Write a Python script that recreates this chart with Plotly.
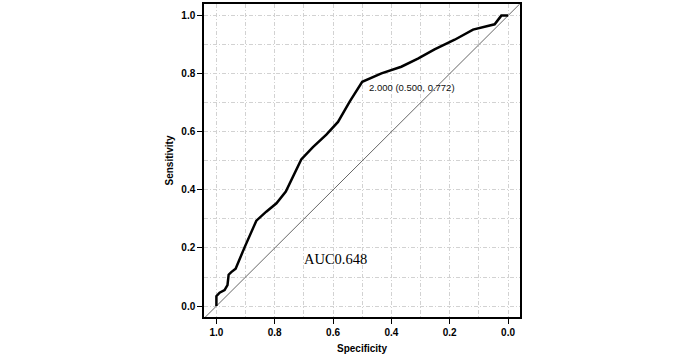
import plotly.graph_objects as go

# ROC curve points
specificity = [1.0, 1.0, 0.989, 0.972, 0.962, 0.958, 0.949, 0.934, 0.903, 0.863,
               0.829, 0.794, 0.762, 0.737, 0.709, 0.669, 0.623, 0.583, 0.543, 0.500,
               0.434, 0.366, 0.309, 0.252, 0.183, 0.120, 0.086, 0.046, 0.023, 0.0]
sensitivity = [0.0, 0.034, 0.046, 0.055, 0.072, 0.108, 0.117, 0.129, 0.203, 0.294,
               0.325, 0.354, 0.394, 0.448, 0.505, 0.547, 0.590, 0.634, 0.704, 0.772,
               0.801, 0.824, 0.852, 0.884, 0.917, 0.952, 0.961, 0.970, 1.0, 1.0]

diag_x = [1.04, -0.04]
diag_y = [-0.04, 1.04]

best_label = "2.000 (0.500, 0.772)"
auc_label = "AUC0.648"

tick_vals = [0.0, 0.2, 0.4, 0.6, 0.8, 1.0]
tick_text = ["0.0", "0.2", "0.4", "0.6", "0.8", "1.0"]

sans = "Liberation Sans Narrow, Arial Narrow, Liberation Sans, Arial, sans-serif"
grid_dash = "4px,2px,1px,2px"

fig = go.Figure()
fig.add_trace(go.Scatter(x=diag_x, y=diag_y, mode="lines",
                         line=dict(color="#666666", width=1), hoverinfo="skip",
                         showlegend=False))
fig.add_trace(go.Scatter(x=specificity, y=sensitivity, mode="lines",
                         line=dict(color="black", width=2.5), showlegend=False))

fig.add_annotation(x=0.482, y=0.752, text=best_label, showarrow=False,
                   xanchor="left", yanchor="middle",
                   font=dict(family=sans, size=9.5, color="#111111"))
fig.add_annotation(x=0.593, y=0.162, text=auc_label, showarrow=False,
                   xanchor="center", yanchor="middle",
                   font=dict(family="Liberation Serif, Times New Roman, serif", size=14.5, color="black"))

axis_common = dict(
    showline=True, linecolor="black", linewidth=1.5, mirror=True,
    ticks="outside", ticklen=5, tickcolor="black", tickwidth=1,
    tickvals=tick_vals, ticktext=tick_text,
    tickfont=dict(family=sans, size=10, color="black", weight="bold"),
    showgrid=True, gridcolor="#d2d2d2", gridwidth=1, griddash=grid_dash,
    minor=dict(dtick=0.1, showgrid=True, gridcolor="#d2d2d2", gridwidth=1, griddash=grid_dash, ticks=""),
    zeroline=False,
)

fig.update_xaxes(range=[1.0425, -0.041], title=dict(text="<b>Specificity</b>", standoff=8,
                 font=dict(family=sans, size=10, color="black")), **axis_common)
fig.update_yaxes(range=[-0.0376, 1.04], title=dict(text="<b>Sensitivity</b>", standoff=6,
                 font=dict(family=sans, size=10, color="black")), **axis_common)

fig.update_layout(width=690, height=357, margin=dict(l=204, r=170, t=2, b=40),
                  plot_bgcolor="white", paper_bgcolor="white")

fig.write_html("out.html", config={"displayModeBar": False},
               post_script="document.body.style.margin='0';")
